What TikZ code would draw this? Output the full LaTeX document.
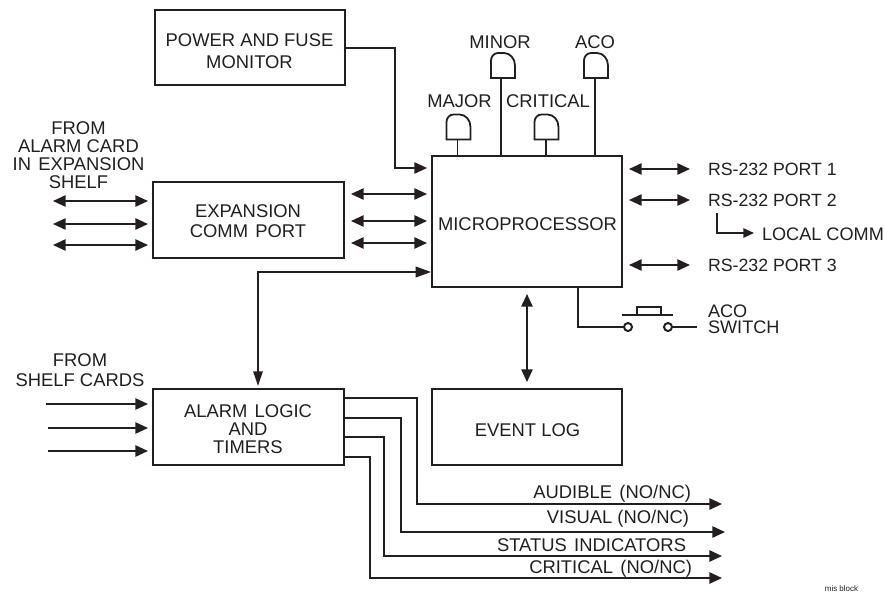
\documentclass[tikz,border=0pt]{standalone}
\usepackage{fontspec}
\setmainfont{Liberation Sans}
\usetikzlibrary{arrows.meta}
\definecolor{ink}{HTML}{231F20}
\tikzset{
  wire/.style={draw=ink,line width=1.25pt},
  arr/.style={wire,-{Triangle[length=9.5pt,width=8.5pt]}},
  darr/.style={wire,{Triangle[length=9.5pt,width=8.5pt]}-{Triangle[length=9.5pt,width=8.5pt]}},
  box/.style={draw=ink,line width=1.5pt,outer sep=0pt,inner sep=0pt,minimum width=142.5pt},
  lab/.style={text=ink,font=\fontsize{13.8}{14}\selectfont,inner sep=0pt,outer sep=0pt},
  belly/.style={inner sep=0pt,outer sep=0pt,minimum width=18pt,minimum height=18.75pt},
  contact/.style={circle,draw=ink,line width=1.5pt,inner sep=0pt,minimum size=6pt,outer sep=0pt},
  plate/.style={draw=ink,line width=1.25pt,inner sep=0pt,outer sep=0pt,minimum width=18pt,minimum height=6pt},
}
\newcommand{\bellshape}[1]{\draw[draw=ink,line width=1.35pt,shift={(#1.center)}] (-12,12.5) -- (-12,-5) .. controls (-12,-9) and (-9,-12.5) .. (-5,-12.5) -- (1,-12.5) .. controls (7,-12.5) and (12,-7) .. (12,0) -- (12,12.5) -- cycle;}
\begin{document}
\begin{tikzpicture}[x=0.75pt,y=-0.75pt]
\useasboundingbox[fill=white] (0,0) rectangle (885,594);
% boxes
\node[box,minimum height=56.25pt] (power) at (250,47.5) {};
\node[box,minimum width=143.25pt,minimum height=57pt] (exp) at (248.5,220) {};
\node[box,minimum width=143.25pt,minimum height=57pt] (alarm) at (248.5,427) {};
\node[box,minimum height=98.25pt] (micro) at (527,221.5) {};
\node[box,minimum height=57pt] (event) at (527,427) {};
% box texts
\node[lab,align=center,font=\fontsize{13.8}{16.5}\selectfont] (tpower) at (249.5,51) {POWER AND FUSE\\ MONITOR};
\node[lab,align=center,font=\fontsize{13.8}{15}\selectfont] (texp) at (248,221) {EXPANSION\\ COMM\hspace{.12em} PORT};
\node[lab,align=center,font=\fontsize{13.8}{13.5}\selectfont] (talarm) at (248,429) {ALARM\hspace{.12em} LOGIC\\ AND\\ TIMERS};
\node[lab] (tmicro) at (527.5,224) {MICROPROCESSOR};
\node[lab] (tevent) at (527.5,430) {EVENT LOG};
% bells
\node[belly] (bmajor) at (458.5,127) {}; \bellshape{bmajor}
\node[belly] (bminor) at (503,65.5) {}; \bellshape{bminor}
\node[belly] (bcrit) at (546.5,127) {}; \bellshape{bcrit}
\node[belly] (baco) at (596,65.5) {}; \bellshape{baco}
\draw[wire] ([xshift=-0.75pt]bmajor.south) -- ([xshift=-0.75pt]bmajor.south |- micro.north);
\draw[wire] ([xshift=-1.5pt]bminor.south) -- ([xshift=-1.5pt]bminor.south |- micro.north);
\draw[wire] ([xshift=-0.4pt]bcrit.south) -- ([xshift=-0.4pt]bcrit.south |- micro.north);
\draw[wire] ([xshift=-0.75pt]baco.south) -- ([xshift=-0.75pt]baco.south |- micro.north);
\node[lab] (lminor) at (500,42) {MINOR};
\node[lab] (laco) at (595,42) {ACO};
\node[lab] (lmajor) at (459.5,101) {MAJOR};
\node[lab] (lcrit) at (548,101) {CRITICAL};
% left top labels
\node[lab,align=center,font=\fontsize{13.8}{13.5}\selectfont] (tfrom1) at (78.5,155) {FROM\\ ALARM CARD\\ IN\hspace{.12em} EXPANSION\\ SHELF};
\node[lab,align=center,font=\fontsize{13.8}{15}\selectfont] (tfrom2) at (80,370) {FROM\\ SHELF CARDS};
% power to micro
\coordinate (pin) at (427,168);
\draw[arr] (power.east |- 0,48) -| (395,168) -- (pin);
% micro to expansion
\coordinate (m1) at (427,194); \coordinate (e1) at (351,194);
\coordinate (m2) at (427,221); \coordinate (e2) at (351,221);
\coordinate (m3) at (427,243); \coordinate (e3) at (351,243);
\draw[darr] (e1) -- (m1);
\draw[darr] (e2) -- (m2);
\draw[darr] (e3) -- (m3);
% shelf side of expansion
\coordinate (x1l) at (53,201); \coordinate (x1r) at (148,201);
\coordinate (x2l) at (53,224); \coordinate (x2r) at (148,224);
\coordinate (x3l) at (53,245); \coordinate (x3r) at (148,245);
\draw[darr] (x1l) -- (x1r);
\draw[darr] (x2l) -- (x2r);
\draw[darr] (x3l) -- (x3r);
% feedback
\coordinate (fb) at (258,272);
\coordinate (fbin) at (431,272);
\coordinate (fbdown) at (258,386);
\draw[wire,{Triangle[length=11pt,width=7pt]}-{Triangle[length=11.5pt,width=8pt]}] (fbdown) -- (fb) -- (fbin);
% micro event
\coordinate (ev1) at (527,294); \coordinate (ev2) at (527,382);
\draw[darr] (ev1) -- (ev2);
% shelf cards inputs
\coordinate (s1l) at (46,404); \coordinate (s1r) at (148,404);
\coordinate (s2l) at (48,428); \coordinate (s2r) at (148,428);
\coordinate (s3l) at (48,451); \coordinate (s3r) at (148,451);
\draw[arr] (s1l) -- (s1r);
\draw[arr] (s2l) -- (s2r);
\draw[arr] (s3l) -- (s3r);
% RS-232
\coordinate (p1a) at (629,169); \coordinate (p1b) at (690,169);
\coordinate (p2a) at (629,200); \coordinate (p2b) at (690,200);
\coordinate (p3a) at (629,265); \coordinate (p3b) at (690,265);
\draw[darr] (p1a) -- (p1b);
\draw[darr] (p2a) -- (p2b);
\draw[darr] (p3a) -- (p3b);
\node[lab,anchor=west,font=\fontsize{13.3}{14}\selectfont] (tp1) at (708,169) {RS-232 PORT 1};
\node[lab,anchor=west,font=\fontsize{13.3}{14}\selectfont] (tp2) at (708,200) {RS-232 PORT 2};
\node[lab,anchor=west,font=\fontsize{13.3}{14}\selectfont] (tp3) at (708,265) {RS-232 PORT 3};
\node[lab,anchor=west,font=\fontsize{13.6}{14}\selectfont] (tlc) at (762,234) {LOCAL COMM};
\coordinate (lc0) at (717,213); \coordinate (lc1) at (754,233);
\draw[wire,-{Triangle[length=8pt,width=7pt]}] (lc0) |- (lc1);
% switch
\node[contact] (swl) at (628,327) {};
\node[contact] (swr) at (668,327) {};
\node[plate] (swp) at (649,311) {};
\coordinate (sb1) at (622,315); \coordinate (sb2) at (673,315);
\coordinate (swo) at (697,327);
\draw[wire] (sb1) -- (sb2);
\draw[wire] (swr) -- (swo);
\draw[wire] (swl.west) -| (578,287);
\node[lab,align=left,anchor=west,font=\fontsize{13.6}{12.2}\selectfont] (taco) at (708,319) {ACO\\ SWITCH};
% outputs
\coordinate (o1) at (722,504); \coordinate (o2) at (725,532); \coordinate (o3) at (722,556); \coordinate (o4) at (722,578);
\draw[arr] (alarm.east |- 0,398) -| (417,504) -- (o1);
\draw[arr] (alarm.east |- 0,418) -| (401,532) -- (o2);
\draw[arr] (alarm.east |- 0,437) -| (384,556) -- (o3);
\draw[arr] (alarm.east |- 0,457) -| (370,578) -- (o4);
\node[lab,anchor=east] (ta) at (691,494) {AUDIBLE\hspace{.12em} (NO/NC)};
\node[lab,anchor=east] (tv) at (689,519) {VISUAL (NO/NC)};
\node[lab,anchor=east] (ts) at (686,545) {STATUS\hspace{.12em} INDICATORS};
\node[lab,anchor=east] (tc) at (692,569) {CRITICAL\hspace{.12em} (NO/NC)};
\node[text=ink,font=\fontsize{6}{7}\selectfont,inner sep=0pt] (mis) at (841.5,589) {mis block};
\end{tikzpicture}
\end{document}
